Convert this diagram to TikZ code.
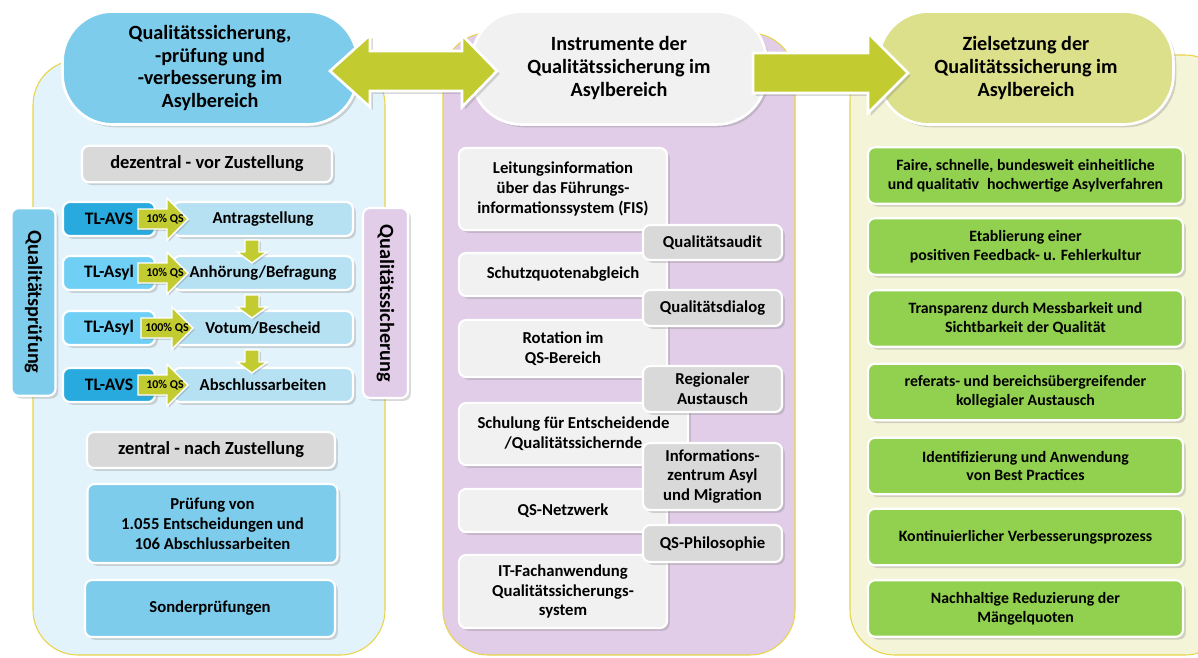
\documentclass[tikz,border=0pt]{standalone}
\usepackage{fontspec}
\setmainfont{Carlito}
\usetikzlibrary{positioning,calc,shadows}

\definecolor{qsblue}{RGB}{126,204,236}
\definecolor{qsbluebg}{RGB}{227,243,251}
\definecolor{qsprocess}{RGB}{181,225,243}
\definecolor{tlavs}{RGB}{40,170,222}
\definecolor{tlasyl}{RGB}{112,207,245}
\definecolor{qspurple}{RGB}{225,205,232}
\definecolor{qsgreylight}{RGB}{241,241,241}
\definecolor{qsgrey}{RGB}{217,217,217}
\definecolor{qscream}{RGB}{243,244,216}
\definecolor{qsolive}{RGB}{220,224,138}
\definecolor{arrowgreen}{RGB}{194,203,48}
\definecolor{goalgreen}{RGB}{146,208,80}
\definecolor{panelline}{RGB}{232,212,70}

\begin{document}
\begin{tikzpicture}[
    x=0.02cm, y=-0.02cm,
    font=\bfseries\fontsize{9.5}{11.3}\selectfont,
    box/.style={draw=white, line width=1.2pt, rounded corners=4pt, align=center, inner sep=2pt,
        drop shadow={shadow xshift=1.6pt, shadow yshift=-1.6pt, opacity=0.3}},
    header/.style={box, line width=1.5pt, rounded corners=1cm, minimum width=5.9cm, minimum height=2.26cm,
        font=\bfseries\fontsize{11.5}{13}\selectfont},
    panel/.style={draw=panelline, line width=0.6pt, rounded corners=0.9cm},
    tl/.style={box, minimum width=1.84cm, minimum height=0.68cm, font=\bfseries\fontsize{10}{12}\selectfont},
    process/.style={box, fill=qsprocess, minimum width=3.6cm, minimum height=0.68cm},
    vbox/.style={box, rotate=-90, minimum width=3.75cm, minimum height=0.88cm,
        font=\bfseries\fontsize{11.5}{13}\selectfont},
    stage/.style={box, fill=qsgrey, minimum width=5cm, minimum height=0.73cm,
        font=\bfseries\fontsize{10.5}{12}\selectfont},
    check/.style={box, fill=qsblue, minimum width=5cm},
    instr/.style={box, fill=qsgreylight, minimum width=4.16cm},
    tool/.style={box, fill=qsgrey, minimum width=2.78cm},
    goal/.style={box, fill=goalgreen, minimum width=6.3cm, minimum height=1.13cm,
        font=\bfseries\fontsize{9}{10.8}\selectfont},
    bigarrow/.style={fill=arrowgreen, draw=white, line width=1.5pt,
        drop shadow={shadow xshift=1.6pt, shadow yshift=-1.6pt, opacity=0.3}},
    smallarrow/.style={fill=arrowgreen, draw=white, line width=0.8pt,
        drop shadow={shadow xshift=1pt, shadow yshift=-1pt, opacity=0.3}},
    qs/.style={font=\bfseries\fontsize{6.8}{7}\selectfont, inner sep=0pt}
]
\useasboundingbox (0,0) rectangle (1198,657);

% Panels
\draw[panel, fill=qsbluebg] (33,60) rectangle (385,655);
\draw[panel, fill=qspurple] (443,33) rectangle (795,655);
\draw[panel, fill=qscream] (850,55) rectangle (1230,655);

% Headers
\node[header, fill=qsblue] (hdrQS) at (210,68) {Qualitätssicherung,\\-prüfung und\\-verbesserung im\\Asylbereich};
\node[header, fill=qsgreylight] (hdrInst) at (619,68) {Instrumente der\\Qualitätssicherung im\\Asylbereich};
\node[header, fill=qsolive] (hdrZiel) at (1026,68) {Zielsetzung der\\Qualitätssicherung im\\Asylbereich};

% Arrows between headers
\coordinate (dblL) at (330,71);
\coordinate (sglL) at (753,73);
\draw[bigarrow] (dblL) -- ++(40,-36) -- ++(0,16) -- ++(92,0) -- ++(0,-16) -- ++(35,36)
    -- ++(-35,36) -- ++(0,-16) -- ++(-92,0) -- ++(0,16) -- cycle;
\draw[bigarrow] (sglL) ++(0,-20) -- ++(115,0) -- ++(0,-20) -- ++(40,40) -- ++(-40,40)
    -- ++(0,-20) -- ++(-115,0) -- cycle;

% Left column: decentral stage
\node[stage] (dezentral) at (207,164) {dezentral - vor Zustellung};

\node[tl, fill=tlavs] (tl1) at (109,219) {TL-AVS};
\node[tl, fill=tlasyl] (tl2) at (109,273) {TL-Asyl};
\node[tl, fill=tlasyl] (tl3) at (109,328) {TL-Asyl};
\node[tl, fill=tlavs] (tl4) at (109,385) {TL-AVS};

\node[process] (proc1) at (263,219) {Antragstellung};
\node[process] (proc2) at (263,273) {Anhörung/Befragung};
\node[process] (proc3) at (263,328) {Votum/Bescheid};
\node[process] (proc4) at (263,385) {Abschlussarbeiten};

% QS arrows into the steps
\coordinate (qa1) at (138,219);
\coordinate (qa2) at (138,273);
\coordinate (qa3) at (141,328);
\coordinate (qa4) at (138,385);
\draw[smallarrow] (qa1) ++(0,-10) -- ++(29,0) -- ++(0,-11) -- ++(21,21) -- ++(-21,21) -- ++(0,-11) -- ++(-29,0) -- cycle;
\draw[smallarrow] (qa2) ++(0,-10) -- ++(29,0) -- ++(0,-11) -- ++(21,21) -- ++(-21,21) -- ++(0,-11) -- ++(-29,0) -- cycle;
\draw[smallarrow] (qa3) ++(0,-10) -- ++(31,0) -- ++(0,-11) -- ++(21,21) -- ++(-21,21) -- ++(0,-11) -- ++(-31,0) -- cycle;
\draw[smallarrow] (qa4) ++(0,-10) -- ++(29,0) -- ++(0,-11) -- ++(21,21) -- ++(-21,21) -- ++(0,-11) -- ++(-29,0) -- cycle;
\node[qs] (qs1) at (165,219) {10\% QS};
\node[qs] (qs2) at (165,273) {10\% QS};
\node[qs] (qs3) at (167,328) {100\% QS};
\node[qs] (qs4) at (165,385) {10\% QS};

% Down arrows between the steps
\coordinate (da1) at (252,240);
\coordinate (da2) at (252,295);
\coordinate (da3) at (252,350);
\draw[smallarrow] (da1) ++(-7,0) -- ++(14,0) -- ++(0,12) -- ++(8,0) -- ++(-15,11) -- ++(-15,-11) -- ++(8,0) -- cycle;
\draw[smallarrow] (da2) ++(-7,0) -- ++(14,0) -- ++(0,12) -- ++(8,0) -- ++(-15,11) -- ++(-15,-11) -- ++(8,0) -- cycle;
\draw[smallarrow] (da3) ++(-7,0) -- ++(14,0) -- ++(0,12) -- ++(8,0) -- ++(-15,11) -- ++(-15,-11) -- ++(8,0) -- cycle;

% Side labels
\node[vbox, fill=qsblue] (vPruef) at (33.5,302) {Qualitätsprüfung};
\node[vbox, fill=qspurple, minimum width=3.8cm, minimum height=0.9cm] (vSich) at (385.5,303) {Qualitätssicherung};

% Left column: central stage
\node[stage, minimum width=4.96cm, minimum height=0.72cm] (zentral) at (211,450) {zentral - nach Zustellung};
\node[check, minimum height=1.58cm] (pruefung) at (212.5,523.5) {Prüfung von\\1.055 Entscheidungen und\\106 Abschlussarbeiten};
\node[check, minimum height=1.14cm] (sonder) at (210,608.5) {Sonderprüfungen};

% Middle column: instruments
\node[instr, minimum height=1.64cm] (leitung) at (563,189) {Leitungsinformation\\über das Führungs-\\informationssystem (FIS)};
\node[instr, minimum height=0.86cm] (schutz) at (563,274.5) {Schutzquotenabgleich};
\node[instr, minimum height=1.14cm] (rotation) at (563,348.5) {Rotation im\\QS-Bereich};
\node[instr, minimum width=4.58cm, minimum height=1.24cm] (schulung) at (573.5,434) {Schulung für Entscheidende\\/Qualitätssichernde};
\node[instr, minimum height=0.86cm] (netzwerk) at (563,510.5) {QS-Netzwerk};
\node[instr, minimum height=1.46cm] (itfach) at (563,591.5) {IT-Fachanwendung\\Qualitätssicherungs-\\system};

\node[tool, minimum height=0.7cm] (audit) at (712.5,242.5) {Qualitätsaudit};
\node[tool, minimum height=0.72cm] (dialog) at (712.5,308) {Qualitätsdialog};
\node[tool, minimum height=0.92cm] (regional) at (712.5,389) {Regionaler\\Austausch};
\node[tool, minimum height=1.34cm] (infozentrum) at (712.5,476.5) {Informations-\\zentrum Asyl\\und Migration};
\node[tool, minimum height=0.74cm] (philosophie) at (712.5,543.5) {QS-Philosophie};

% Right column: goals
\node[goal] (ziel1) at (1025.5,175.5) {Faire, schnelle, bundesweit einheitliche\\und qualitativ\enspace hochwertige Asylverfahren};
\node[goal] (ziel2) at (1025.5,246.5) {Etablierung einer\\positiven Feedback- u. Fehlerkultur};
\node[goal] (ziel3) at (1025.5,318.5) {Transparenz durch Messbarkeit und\\Sichtbarkeit der Qualität};
\node[goal] (ziel4) at (1025.5,392) {referats- und bereichsübergreifender\\kollegialer Austausch};
\node[goal] (ziel5) at (1025.5,466) {Identifizierung und Anwendung\\von Best Practices};
\node[goal] (ziel6) at (1025.5,537) {Kontinuierlicher Verbesserungsprozess};
\node[goal] (ziel7) at (1025.5,608.5) {Nachhaltige Reduzierung der\\Mängelquoten};

\end{tikzpicture}
\end{document}
